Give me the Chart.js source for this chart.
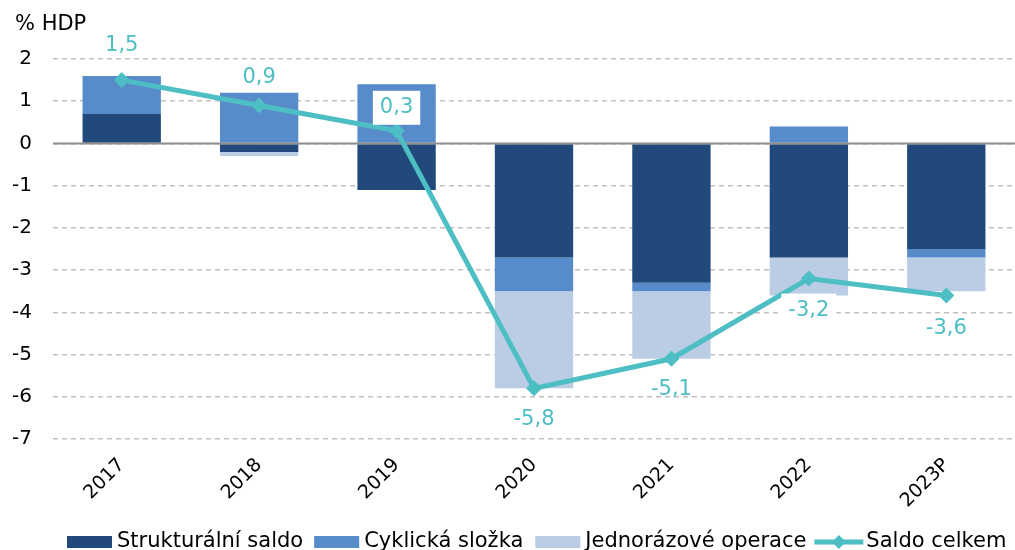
<!DOCTYPE html>
<html>
<head>
<meta charset="utf-8">
<script src="https://cdn.jsdelivr.net/npm/chart.js@4.4.1/dist/chart.umd.min.js"></script>
<style>
  html, body { margin: 0; padding: 0; background: #fff; }
  #wrap { width: 1015px; height: 550px; position: relative; }
</style>
</head>
<body>
<div id="wrap"><canvas id="c" width="1015" height="550"></canvas></div>
<script>
const categories = ['2017', '2018', '2019', '2020', '2021', '2022', '2023P'];
const strukturalniSaldo = [0.7, -0.2, -1.1, -2.7, -3.3, -2.7, -2.5];
const cyklickaSlozka = [0.9, 1.2, 1.4, -0.8, -0.2, 0.4, -0.2];
const jednorazoveOperace = [0, -0.1, 0, -2.3, -1.6, -0.9, -0.8];
const saldoCelkem = [1.5, 0.9, 0.3, -5.8, -5.1, -3.2, -3.6];
const yTicks = [2, 1, 0, -1, -2, -3, -4, -5, -6, -7];
const seriesNames = ['Strukturální saldo', 'Cyklická složka', 'Jednorázové operace', 'Saldo celkem'];
const yUnit = '% HDP';

const C_STRUCT = '#21497c';
const C_CYC = '#578bca';
const C_ONE = '#bacde5';
const C_LINE = '#4dbec3';
const FONT = '"DejaVu Sans", Verdana, sans-serif';

const fmt = v => String(v).replace('.', ',');

const extras = {
  id: 'extras',
  beforeDatasetDraw(chart, args) {
    if (args.index !== 3) return;
    const ctx = chart.ctx, y = chart.scales.y.getPixelForValue(0), a = chart.chartArea;
    ctx.save();
    ctx.strokeStyle = '#8e8e8e';
    ctx.lineWidth = 2;
    ctx.beginPath(); ctx.moveTo(a.left, y); ctx.lineTo(a.right, y); ctx.stroke();
    ctx.restore();
  },
  afterDatasetsDraw(chart) {
    const ctx = chart.ctx;
    const meta = chart.getDatasetMeta(3);
    const boxed = [2, 5];
    const offsets = [-35, -28, -23, 31, 31, 32, 33];
    ctx.save();
    ctx.font = '21px ' + FONT;
    ctx.textAlign = 'center';
    ctx.textBaseline = 'middle';
    meta.data.forEach((pt, i) => {
      const txt = fmt(saldoCelkem[i]);
      const x = pt.x, y = pt.y + offsets[i];
      if (boxed.includes(i)) {
        const w = ctx.measureText(txt).width + 14;
        ctx.fillStyle = '#ffffff';
        ctx.fillRect(x - w / 2, y - 17, w, 34);
      }
      ctx.fillStyle = C_LINE;
      ctx.fillText(txt, x, y);
    });
    ctx.restore();
  },
  afterDraw(chart) {
    const ctx = chart.ctx;
    ctx.save();
    ctx.font = '21px ' + FONT;
    ctx.fillStyle = '#000';
    ctx.textAlign = 'left';
    ctx.textBaseline = 'middle';
    ctx.fillText(yUnit, 15, 25);
    const cy = 542;
    let x = 67;
    const fills = [C_STRUCT, C_CYC, C_ONE];
    const gaps = [11, 12, 8];
    seriesNames.forEach((name, i) => {
      if (i < 3) {
        ctx.fillStyle = fills[i];
        ctx.fillRect(x, cy - 6, 45, 12);
        x += 45 + 5;
      } else {
        ctx.strokeStyle = C_LINE;
        ctx.lineWidth = 5;
        ctx.beginPath(); ctx.moveTo(x, cy); ctx.lineTo(x + 49, cy); ctx.stroke();
        const mx = x + 24.5;
        ctx.fillStyle = C_LINE;
        ctx.beginPath();
        ctx.moveTo(mx, cy - 7); ctx.lineTo(mx + 7, cy); ctx.lineTo(mx, cy + 7); ctx.lineTo(mx - 7, cy);
        ctx.closePath(); ctx.fill();
        x += 49 + 3;
      }
      ctx.fillStyle = '#000';
      ctx.font = '21px ' + FONT;
      ctx.fillText(name, x, cy);
      x += ctx.measureText(name).width + (gaps[i] || 0);
    });
    ctx.restore();
  }
};

new Chart(document.getElementById('c'), {
  data: {
    labels: categories,
    datasets: [
      { type: 'bar', label: seriesNames[0], data: strukturalniSaldo, backgroundColor: C_STRUCT, stack: 'bars', order: 1,
        barPercentage: 0.57, categoryPercentage: 1 },
      { type: 'bar', label: seriesNames[1], data: cyklickaSlozka, backgroundColor: C_CYC, stack: 'bars', order: 1,
        barPercentage: 0.57, categoryPercentage: 1 },
      { type: 'bar', label: seriesNames[2], data: jednorazoveOperace, backgroundColor: C_ONE, stack: 'bars', order: 1,
        barPercentage: 0.57, categoryPercentage: 1 },
      { type: 'line', label: seriesNames[3], data: saldoCelkem, borderColor: C_LINE, backgroundColor: C_LINE,
        borderWidth: 5, pointStyle: 'rectRot', pointRadius: 8, pointBorderWidth: 0, pointHoverRadius: 8,
        stack: 'line', order: 0, tension: 0, clip: false }
    ]
  },
  options: {
    responsive: false,
    animation: false,
    events: [],
    layout: { autoPadding: false, padding: { top: 59, left: 0, right: 0, bottom: 41 } },
    plugins: { legend: { display: false }, tooltip: { enabled: false }, title: { display: false } },
    scales: {
      x: {
        stacked: true,
        grid: { display: false, drawTicks: false },
        border: { display: false },
        ticks: { color: '#000', font: { family: FONT, size: 19 }, maxRotation: 45, minRotation: 45, padding: 15 },
        afterFit: s => { s.height = 70; s.paddingLeft = 0; s.paddingRight = 0; }
      },
      y: {
        stacked: true,
        min: -7, max: 2,
        afterBuildTicks: s => { s.ticks = yTicks.map(v => ({ value: v })); },
        grid: { color: '#c0c0c0', lineWidth: 1.5, drawTicks: false },
        border: { display: false, dash: [5, 4] },
        ticks: { color: '#000', font: { family: FONT, size: 20 }, padding: 21, callback: v => fmt(v) },
        afterFit: s => { s.width = 53; s.paddingTop = 0; s.paddingBottom = 0; }
      }
    }
  },
  plugins: [extras]
});
</script>
</body>
</html>
